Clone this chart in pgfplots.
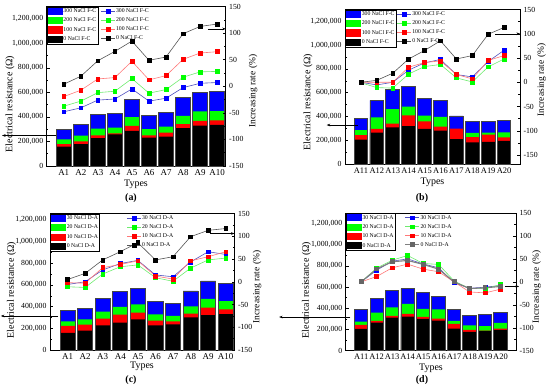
\documentclass[border=0pt]{standalone}
\usepackage{fontspec}
\setmainfont{Liberation Serif}
\usepackage{pgfplots}
\pgfplotsset{compat=1.18}
\usepackage{pgfplotstable}
\usetikzlibrary{arrows.meta}

\definecolor{cblue}{RGB}{0,0,255}
\definecolor{cgreen}{RGB}{0,255,0}
\definecolor{cred}{RGB}{255,0,0}
\definecolor{lblue}{RGB}{80,80,190}
\definecolor{lgreen}{RGB}{110,235,110}
\definecolor{lred}{RGB}{255,120,120}
\definecolor{lblack}{RGB}{85,85,85}
\definecolor{edge}{RGB}{70,70,70}

\pgfplotsset{
  barleg/.style={legend image code/.code={\fill[##1] (0bp,-3.5bp) rectangle (15bp,3.5bp);}},
  linleg/.style={legend image code/.code={\draw[mark repeat=2,mark phase=2,##1] plot coordinates {(0bp,0bp) (7bp,0bp) (14bp,0bp)};}},
  mybar/.style={ybar, bar width=0.86, bar shift=0pt, draw=none},
  myline/.style={mark=square*, mark size=1.9bp, line width=0.6pt},
  leftax/.style={scale only axis, anchor=south west, ymin=0,
    scaled y ticks=false,
    ytick pos=left, xtick pos=bottom, major x tick style={draw=none},
    tick align=inside, major tick length=3bp, minor tick length=1.7bp,
    minor y tick num=1, axis line style={line width=0.6pt},
    tick style={line width=0.5pt, black},
    y tick label style={font=\fontsize{7.8}{9}\selectfont},
    legend cell align=left, clip=false,
    legend style={at={(rel axis cs:0,1)}, anchor=north west, draw=black, line width=0.4pt,
      fill=white, font=\fontsize{5.8}{6.5}\selectfont, inner xsep=1bp, inner ysep=1.2bp,
      row sep=2.3bp, nodes={inner sep=0.6bp}}},
  rightax/.style={scale only axis, anchor=south west, axis x line=none, axis y line*=right,
    tick align=inside, major tick length=3bp, minor tick length=1.7bp,
    minor y tick num=1, axis line style={line width=0.6pt},
    tick style={line width=0.5pt, black},
    ytick={-150,-100,...,150}, yticklabels={-150,-100,-50,0,50,100,150},
    y tick label style={font=\fontsize{7.8}{9}\selectfont},
    legend cell align=left, clip=false,
    legend style={anchor=north west, draw=none, fill=none,
      font=\fontsize{5.8}{6.5}\selectfont, inner xsep=1bp, inner ysep=1.2bp,
      row sep=2.3bp, nodes={inner sep=0.6bp}}}
}

\pgfplotstableread{
x b0 b100 b200 b300 r0 r100 r200 r300
1 157000 179000 217000 294000 3.8 -19.4 -37.5 -48
2 179000 200000 247000 338000 18.8 -7.5 -28 -40.6
3 228000 250000 305000 418000 48 13.8 -12 -26
4 258000 265000 313000 428000 65.6 16.3 -9.4 -24
5 286000 327000 398000 541000 85 47 14.4 -5
6 231000 250000 300000 409000 48.8 12 -13 -28
7 239000 272000 321000 440000 55 20 -6.3 -22.5
8 308000 341000 409000 555000 98.8 50.6 17 -2.5
9 330000 368000 445000 599000 112.5 62.5 27 5.6
10 335000 371000 448000 607000 117 65 28 7
}\dataA

\pgfplotstableread{
x b0 b100 b200 b300 r0 r100 r200 r300
1 206000 242000 284000 387000 0 0 -1 0
2 265000 295000 393000 535000 4 0 -11 -5.5
3 309000 340000 462000 624000 18.6 0 -12 0
4 318000 409000 482000 652000 48 31 17 25
5 295000 359000 407000 549000 65.5 40.7 32.4 40
6 281000 315000 396000 535000 85.5 44 36.6 47
7 209000 298000 290000 404000 48 16 9 16
8 181000 226000 262000 354000 55 7 0.7 11
9 187000 248000 265000 359000 99 45 31.7 42.8
10 195000 223000 267000 365000 113 55 48 66
}\dataB

\pgfplotstableread{
x b0 b100 b200 b300 r0 r100 r200 r300
1 157000 222000 265000 363000 5 -2 -11 -6
2 178000 234000 283000 385000 18.4 -3 -12.5 0
3 228000 289000 354000 480000 48 31 17 26
4 252000 326000 397000 538000 66 38 33 40
5 283000 345000 422000 569000 86 46 37 47
6 228000 271000 329000 446000 48 12.5 9 15
7 237000 265000 314000 428000 55 6 1 11
8 302000 335000 403000 545000 99 46 30 43.5
9 323000 391000 471000 637000 113 55 48 66
10 332000 375000 452000 612000 117 66 52 60
}\dataC

\pgfplotstableread{
x b0 b100 b200 b300 r0 r100 r200 r300
1 205000 243000 275000 389000 0 0 0 0
2 265000 281000 360000 490000 28 11.6 30 25.5
3 313000 329000 408000 566000 43.7 30.6 47 45
4 322000 348000 442000 585000 46.6 38.6 57.5 50
5 300000 319000 395000 547000 38 27.7 40 39
6 284000 303000 389000 509000 27.7 22 38 30.6
7 209000 253000 281000 385000 0 0 2 -2
8 177000 196000 240000 335000 -14.6 -22 -14.6 -14
9 187000 190000 231000 344000 -13 -24 -15 -11.6
10 196000 209000 262000 357000 -10 -16 -6 -8
}\dataD

\begin{document}
\begin{tikzpicture}
\useasboundingbox (0,0) rectangle (550bp,-392bp);

% ================= (a) =================
\begin{axis}[leftax, at={(46.7bp,-166bp)}, width=179bp, height=159.5bp,
  xmin=0, xmax=10.5, ymax=1300000,
  xtick={1,...,10}, xticklabels={A1,A2,A3,A4,A5,A6,A7,A8,A9,A10},
  x tick label style={font=\fontsize{9}{10}\selectfont},
  ytick={0,200000,400000,600000,800000,1000000,1200000},
  yticklabels={{0},{200,000},{400,000},{600,000},{800,000},{1,000,000},{1,200,000}}]
\addplot[mybar, barleg, fill=cblue] table[x=x,y=b300]{\dataA};
\addlegendentry{300 NaCl F-C}
\addplot[mybar, barleg, fill=cgreen] table[x=x,y=b200]{\dataA};
\addlegendentry{200 NaCl F-C}
\addplot[mybar, barleg, fill=cred] table[x=x,y=b100]{\dataA};
\addlegendentry{100 NaCl F-C}
\addplot[mybar, barleg, fill=black] table[x=x,y=b0]{\dataA};
\addlegendentry{0 NaCl F-C}
\addplot[ybar, bar width=0.86, bar shift=0pt, fill=none, draw=edge, line width=0.9pt, forget plot] table[x=x,y=b300]{\dataA};
\draw[-{Stealth[length=3.5bp,width=2.6bp]}, line width=0.5pt] (axis cs:0.55,248600) -- (axis cs:-2.62,248600);
\end{axis}
\begin{axis}[rightax, at={(46.7bp,-166bp)}, width=179bp, height=159.5bp,
  xmin=0, xmax=10.5, ymin=-150, ymax=150,
  legend style={at={(rel axis cs:0.296,1)}}]
\addplot[myline, linleg, color=lblue, mark options={fill=cblue, draw=cblue}] table[x=x,y=r300]{\dataA};
\addlegendentry{300 NaCl F-C}
\addplot[myline, linleg, color=lgreen, mark options={fill=cgreen, draw=cgreen}] table[x=x,y=r200]{\dataA};
\addlegendentry{200 NaCl F-C}
\addplot[myline, linleg, color=lred, mark options={fill=cred, draw=cred}] table[x=x,y=r100]{\dataA};
\addlegendentry{100 NaCl F-C}
\addplot[myline, linleg, color=lblack, mark options={fill=black, draw=black}] table[x=x,y=r0]{\dataA};
\addlegendentry{0 NaCl F-C}
\draw[-{Stealth[length=3.5bp,width=2.6bp]}, line width=0.5pt] (axis cs:9.45,108) -- (axis cs:10.5,108);
\end{axis}

% ================= (b) =================
\begin{axis}[leftax, at={(345bp,-164bp)}, width=175bp, height=154.5bp,
  xmin=0, xmax=11, ymax=1300000,
  xtick={1,...,10}, xticklabels={A11,A12,A13,A14,A15,A16,A17,A18,A19,A20},
  x tick label style={font=\fontsize{8.5}{10}\selectfont},
  ytick={0,200000,400000,600000,800000,1000000,1200000},
  yticklabels={{0},{200,000},{400,000},{600,000},{800,000},{1,000,000},{1,200,000}}]
\addplot[mybar, barleg, fill=cblue] table[x=x,y=b300]{\dataB};
\addlegendentry{300 NaCl F-C}
\addplot[mybar, barleg, fill=cgreen] table[x=x,y=b200]{\dataB};
\addlegendentry{200 NaCl F-C}
\addplot[mybar, barleg, fill=cred] table[x=x,y=b100]{\dataB};
\addlegendentry{100 NaCl F-C}
\addplot[mybar, barleg, fill=black] table[x=x,y=b0]{\dataB};
\addlegendentry{0 NaCl F-C}
\addplot[ybar, bar width=0.86, bar shift=0pt, fill=none, draw=edge, line width=0.9pt, forget plot] table[x=x,y=b300]{\dataB};
\draw[-{Stealth[length=3.5bp,width=2.6bp]}, line width=0.5pt] (axis cs:0.82,328000) -- (axis cs:-1.15,328000);
\end{axis}
\begin{axis}[rightax, at={(345bp,-164bp)}, width=175bp, height=154.5bp,
  xmin=0, xmax=11, ymin=-168.5, ymax=150,
  legend style={at={(rel axis cs:0.291,1)}}]
\addplot[myline, linleg, color=lblue, mark options={fill=cblue, draw=cblue}] table[x=x,y=r300]{\dataB};
\addlegendentry{300 NaCl F-C}
\addplot[myline, linleg, color=lgreen, mark options={fill=cgreen, draw=cgreen}] table[x=x,y=r200]{\dataB};
\addlegendentry{200 NaCl F-C}
\addplot[myline, linleg, color=lred, mark options={fill=cred, draw=cred}] table[x=x,y=r100]{\dataB};
\addlegendentry{100 NaCl F-C}
\addplot[myline, linleg, color=lblack, mark options={fill=black, draw=black}] table[x=x,y=r0]{\dataB};
\addlegendentry{0 NaCl F-C}
\draw[-{Stealth[length=3.5bp,width=2.6bp]}, line width=0.5pt] (axis cs:9.43,100) -- (axis cs:11,100);
\end{axis}

% ================= (c) =================
\begin{axis}[leftax, at={(50bp,-350bp)}, width=184.5bp, height=136.5bp,
  xmin=0, xmax=10.5, ymax=1260000,
  xtick={1,...,10}, xticklabels={A1,A2,A3,A4,A5,A6,A7,A8,A9,A10},
  x tick label style={font=\fontsize{9}{10}\selectfont},
  ytick={0,200000,400000,600000,800000,1000000,1200000},
  yticklabels={{0},{200,000},{400,000},{600,000},{800,000},{1,000,000},{1,200,000}}]
\addplot[mybar, barleg, fill=cblue] table[x=x,y=b300]{\dataC};
\addlegendentry{30 NaCl D-A}
\addplot[mybar, barleg, fill=cgreen] table[x=x,y=b200]{\dataC};
\addlegendentry{20 NaCl D-A}
\addplot[mybar, barleg, fill=cred] table[x=x,y=b100]{\dataC};
\addlegendentry{10 NaCl D-A}
\addplot[mybar, barleg, fill=black] table[x=x,y=b0]{\dataC};
\addlegendentry{0 NaCl D-A}
\addplot[ybar, bar width=0.86, bar shift=0pt, fill=none, draw=edge, line width=0.9pt, forget plot] table[x=x,y=b300]{\dataC};
\draw[-{Stealth[length=3.5bp,width=2.6bp]}, line width=0.5pt] (axis cs:0.46,314000) -- (axis cs:-2.8,314000);
\end{axis}
\begin{axis}[rightax, at={(50bp,-350bp)}, width=184.5bp, height=136.5bp,
  xmin=0, xmax=10.5, ymin=-150, ymax=150,
  legend style={at={(rel axis cs:0.41,1)}}]
\addplot[myline, linleg, color=lblue, mark options={fill=cblue, draw=cblue}] table[x=x,y=r300]{\dataC};
\addlegendentry{30 NaCl D-A}
\addplot[myline, linleg, color=lgreen, mark options={fill=cgreen, draw=cgreen}] table[x=x,y=r200]{\dataC};
\addlegendentry{20 NaCl D-A}
\addplot[myline, linleg, color=lred, mark options={fill=cred, draw=cred}] table[x=x,y=r100]{\dataC};
\addlegendentry{10 NaCl D-A}
\addplot[myline, linleg, color=lblack, mark options={fill=black, draw=black}] table[x=x,y=r0]{\dataC};
\addlegendentry{0 NaCl D-A}
\draw[-{Stealth[length=3.5bp,width=2.6bp]}, line width=0.5pt] (axis cs:9.1,106) -- (axis cs:10.5,106);
\end{axis}

% ================= (d) =================
\begin{axis}[leftax, at={(345.7bp,-350.7bp)}, width=170.3bp, height=137.7bp,
  xmin=0, xmax=11, ymax=1300000,
  xtick={1,...,10}, xticklabels={A11,A12,A13,A14,A15,A16,A17,A18,A19,A20},
  x tick label style={font=\fontsize{8.5}{10}\selectfont},
  ytick={0,200000,400000,600000,800000,1000000,1200000},
  yticklabels={{0},{200,000},{400,000},{600,000},{800,000},{1,000,000},{1,200,000}}]
\addplot[mybar, barleg, fill=cblue] table[x=x,y=b300]{\dataD};
\addlegendentry{30 NaCl D-A}
\addplot[mybar, barleg, fill=cgreen] table[x=x,y=b200]{\dataD};
\addlegendentry{20 NaCl D-A}
\addplot[mybar, barleg, fill=cred] table[x=x,y=b100]{\dataD};
\addlegendentry{10 NaCl D-A}
\addplot[mybar, barleg, fill=black] table[x=x,y=b0]{\dataD};
\addlegendentry{0 NaCl D-A}
\addplot[ybar, bar width=0.86, bar shift=0pt, fill=none, draw=edge, line width=0.9pt, forget plot] table[x=x,y=b300]{\dataD};
\draw[-{Stealth[length=3.5bp,width=2.6bp]}, line width=0.5pt] (axis cs:0.3,318000) -- (axis cs:-4.3,318000);
\end{axis}
\begin{axis}[rightax, at={(345.7bp,-350.7bp)}, width=170.3bp, height=137.7bp,
  xmin=0, xmax=11, ymin=-150, ymax=150,
  legend style={at={(rel axis cs:0.34,1)}}]
\addplot[myline, linleg, color=lblue, mark options={fill=cblue, draw=cblue}] table[x=x,y=r300]{\dataD};
\addlegendentry{30 NaCl D-A}
\addplot[myline, linleg, color=lgreen, mark options={fill=cgreen, draw=cgreen}] table[x=x,y=r200]{\dataD};
\addlegendentry{20 NaCl D-A}
\addplot[myline, linleg, color=lred, mark options={fill=cred, draw=cred}] table[x=x,y=r100]{\dataD};
\addlegendentry{10 NaCl D-A}
\addplot[myline, linleg, color=gray, line width=1.1pt, mark options={fill=gray!80!black, draw=gray!80!black}] table[x=x,y=r0]{\dataD};
\addlegendentry{0 NaCl D-A}
\draw[-{Stealth[length=3.5bp,width=2.6bp]}, line width=0.5pt] (axis cs:10.28,-10) -- (axis cs:11.2,-10);
\end{axis}

% ---- titles ----
\tikzset{lab/.style={font=\fontsize{10}{12}\selectfont, inner sep=0pt}}
\tikzset{rlab/.style={font=\fontsize{9.5}{11}\selectfont, inner sep=0pt}}
\node[lab, rotate=90] at (10bp,-104bp) {Electrical resistance (Ω)};
\node[rlab, rotate=90] at (253bp,-91bp) {Increasing rate (\%)};
\node[lab] at (136bp,-184bp) {Types};
\node[lab, rotate=90] at (308bp,-102bp) {Electrical resistance (Ω)};
\node[rlab, rotate=90] at (541.5bp,-80bp) {Increasing rate (\%)};
\node[lab] at (432.5bp,-182bp) {Types};
\node[lab, rotate=90] at (11.5bp,-290bp) {Electrical resistance (Ω)};
\node[rlab, rotate=90] at (257bp,-287bp) {Increasing rate (\%)};
\node[lab] at (142bp,-366.5bp) {Types};
\node[lab, rotate=90] at (306.5bp,-290bp) {Electrical resistance (Ω)};
\node[rlab, rotate=90] at (536.5bp,-287bp) {Increasing rate (\%)};
\node[lab] at (431bp,-368bp) {Types};
\node[font=\bfseries\fontsize{10}{12}\selectfont] at (131bp,-198bp) {(a)};
\node[font=\bfseries\fontsize{10}{12}\selectfont] at (422bp,-198bp) {(b)};
\node[font=\bfseries\fontsize{10}{12}\selectfont] at (131bp,-380bp) {(c)};
\node[font=\bfseries\fontsize{10}{12}\selectfont] at (422bp,-380bp) {(d)};
\end{tikzpicture}
\end{document}
